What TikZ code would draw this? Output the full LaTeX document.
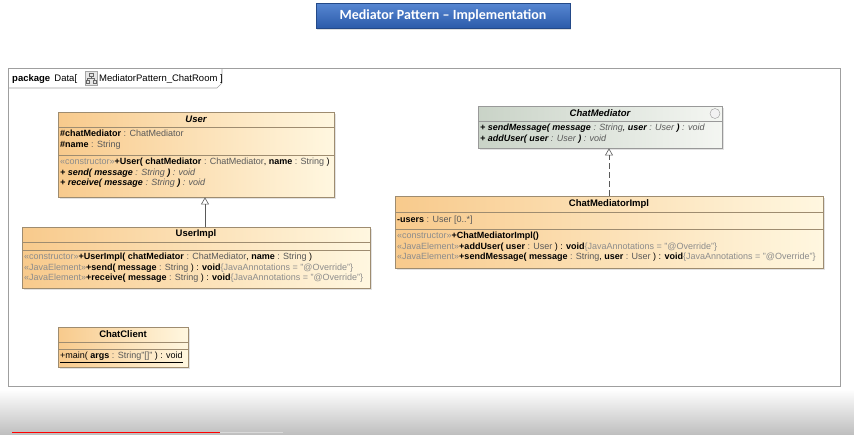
\documentclass[tikz,border=0pt]{standalone}
\usepackage{fontspec}
\setmainfont{Liberation Sans}
\newfontfamily\titlefont{Carlito}
\usetikzlibrary{arrows.meta,shadows}

\definecolor{umlorange}{HTML}{F8CA8C}
\definecolor{umlcream}{HTML}{FFF7E0}
\definecolor{ifgreen}{HTML}{C9D3C7}
\definecolor{ifwhite}{HTML}{F4F6F2}
\definecolor{umlgray}{HTML}{8C8C8C}
\definecolor{umlline}{HTML}{9E8C70}
\definecolor{titleblue}{HTML}{2C5BAA}
\definecolor{titlelight}{HTML}{5787D2}
\newcommand{\stereo}[1]{\textcolor{umlgray}{«#1»}}
\newcommand{\ty}[1]{\textcolor{black!65}{#1}}
\newcommand{\annot}{\textcolor{umlgray}{\{JavaAnnotations = "@Override"\}}}

\tikzset{
  classbox/.style={draw=umlline, line width=0.8pt, inner sep=0pt,
    left color=umlorange, right color=umlcream,
    drop shadow={shadow xshift=2pt, shadow yshift=-2pt, fill=gray!45}},
  ifbox/.style={classbox, draw=gray!80, left color=ifgreen, right color=ifwhite},
  sep/.style={draw=umlline, line width=0.6pt},
  members/.style={anchor=north west, align=left, inner sep=0pt,
    font=\fontsize{9}{10.5}\selectfont},
  classname/.style={font=\fontsize{9.5}{10}\selectfont\bfseries},
  gen/.style={-{Triangle[open,length=7pt,width=8pt]}, draw=gray!70!black, line width=0.6pt},
  real/.style={gen, dash pattern=on 6pt off 3pt},
}

\begin{document}
\begin{tikzpicture}[x=1pt,y=-1pt]
  \useasboundingbox (0,0) rectangle (854,434);
  \fill[white] (0,0) rectangle (854,434);
  % title
  \node[top color=titlelight, bottom color=titleblue, draw=titleblue!80!black,
    minimum width=254pt, minimum height=25pt, inner sep=0pt,
    drop shadow={shadow xshift=1pt, shadow yshift=-2pt, fill=gray!50},
    text=white, font=\titlefont\fontsize{14}{16}\selectfont\bfseries]
    (title) at (443,15.5) {Mediator Pattern – Implementation};
  % package frame
  \draw[gray!75, line width=0.8pt] (8,68) rectangle (840,386);
  \draw[gray!75, line width=0.6pt] (8,88) -- (217,88) -- (222,83) -- (222,68);
  \node[anchor=base west, inner sep=0pt, font=\fontsize{9.5}{10}\selectfont] (pkg) at (12,81)
    {\textbf{package}\, Data[};
  \draw[gray!70, fill=gray!20] (85,71) rectangle (97,85);
  \draw[gray!80!black, line width=0.4pt] (89,73) rectangle (93,76)
    (91,76) -- (91,78) (87.5,78) -- (94.5,78) (87.5,78) -- (87.5,80) (94.5,78) -- (94.5,80)
    (86,80) rectangle (89,83) (93,80) rectangle (96,83);
  \node[anchor=base west, inner sep=0pt, font=\fontsize{9.5}{10}\selectfont] (pkgname) at (99,81)
    {MediatorPattern\_ChatRoom ]};

  % User
  \node[classbox, minimum width=276pt, minimum height=85pt] (user) at (196,154.5) {};
  \draw[sep] (58,127) -- (334,127) (58,155) -- (334,155);
  \node[classname, font=\fontsize{9.5}{10}\selectfont\bfseries\itshape] at (196,119.5) {User};
  \node[members] at (60,130) {\textbf{\#chatMediator} \ty{: ChatMediator}\\
    \textbf{\#name} \ty{: String}};
  \node[members] at (60,158) {\stereo{constructor}\textbf{+User(} \textbf{chatMediator} \ty{: ChatMediator}, \textbf{name} \ty{: String} )\\
    \itshape\textbf{+ send( message} \ty{: String} \textbf{)} \ty{: void}\\
    \itshape\textbf{+ receive( message} \ty{: String} \textbf{)} \ty{: void}};

  % UserImpl
  \node[classbox, minimum width=348pt, minimum height=61pt] (userimpl) at (196,257.5) {};
  \draw[sep] (22,242) -- (370,242) (22,250) -- (370,250);
  \node[classname] at (196,234.5) {UserImpl};
  \node[members] at (24,253) {\stereo{constructor}\textbf{+UserImpl( chatMediator} \ty{: ChatMediator}, \textbf{name} \ty{: String} )\\
    \stereo{JavaElement}\textbf{+send( message} \ty{: String} ) : \textbf{void}\annot\\
    \stereo{JavaElement}\textbf{+receive( message} \ty{: String} ) : \textbf{void}\annot};

  % ChatClient
  \node[classbox, minimum width=130pt, minimum height=40pt] (client) at (123,347) {};
  \draw[sep] (58,342) -- (188,342) (58,349) -- (188,349);
  \node[classname] at (123,334.5) {ChatClient};
  \node[members] at (60,352) {\underline{+main( \textbf{args} \ty{: String"[]"} ) : void}};

  % ChatMediator
  \node[ifbox, minimum width=244pt, minimum height=42pt] (mediator) at (600,127) {};
  \draw[sep, draw=gray!80] (478,121) -- (722,121);
  \node[classname, font=\fontsize{9.5}{10}\selectfont\bfseries\itshape] at (600,113.5) {ChatMediator};
  \draw[gray!80, fill=white!90!gray] (715,113.5) circle (5pt);
  \node[members, font=\fontsize{9}{10.5}\selectfont\itshape] at (480,124)
    {\textbf{+ sendMessage( message} \ty{: String}, \textbf{user} \ty{: User} \textbf{)} \ty{: void}\\
    \textbf{+ addUser( user} \ty{: User} \textbf{)} \ty{: void}};

  % ChatMediatorImpl
  \node[classbox, minimum width=428pt, minimum height=72pt] (mediatorimpl) at (609,232) {};
  \draw[sep] (395,212) -- (823,212) (395,229) -- (823,229);
  \node[classname] at (609,204) {ChatMediatorImpl};
  \node[members] at (397,215.5) {\textbf{-users} \ty{: User [0..*]}};
  \node[members] at (397,232) {\stereo{constructor}\textbf{+ChatMediatorImpl()}\\
    \stereo{JavaElement}\textbf{+addUser( user} \ty{: User} ) : \textbf{void}\annot\\
    \stereo{JavaElement}\textbf{+sendMessage( message} \ty{: String}, \textbf{user} \ty{: User} ) : \textbf{void}\annot};

  % relations
  \draw[gen] ([xshift=9pt]userimpl.north) -- ([xshift=9pt]user.south);
  \draw[real] (mediatorimpl.north) -- ([xshift=9pt]mediator.south);

  % player bar
  \shade[top color=white, bottom color=gray!50] (0,389) rectangle (854,434);
  \draw[red, line width=1.5pt] (12,432.5) -- (220,432.5);
  \draw[gray!30, line width=1.5pt] (220,432.5) -- (283,432.5);
\end{tikzpicture}
\end{document}
